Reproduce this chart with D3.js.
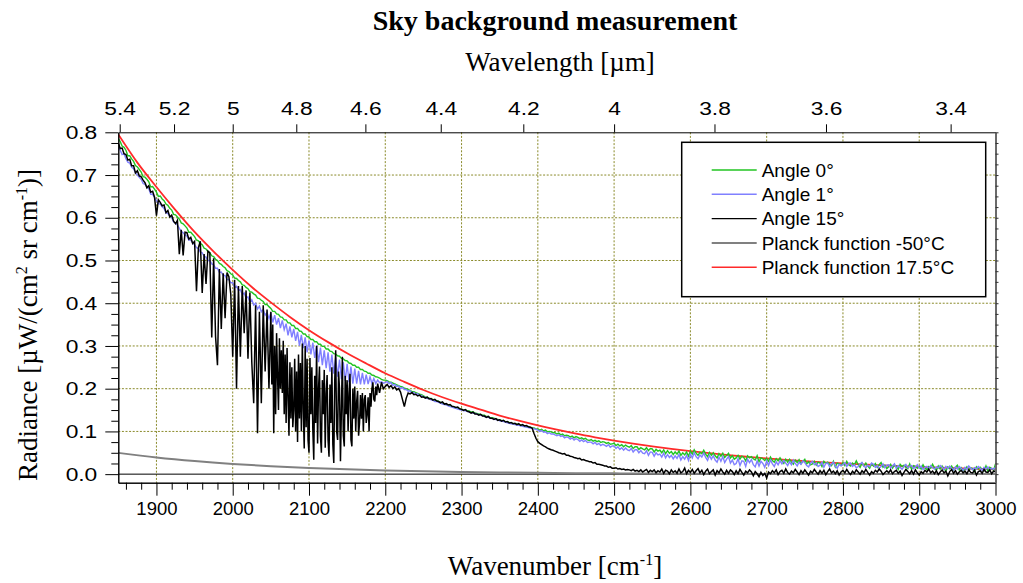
<!DOCTYPE html>
<html><head><meta charset="utf-8">
<script src="https://cdn.jsdelivr.net/npm/d3@7"></script>
<style>
html,body{margin:0;padding:0;background:#fff;}
svg{display:block;}
</style></head><body>
<svg id="chart" width="1023" height="583"></svg>
<script>
// ---------------- DATA ----------------
// Sampling grid of the measured spectra (cm^-1), 1850 ... 3000 every 2.5
const wavenumber = d3.range(0, 461).map(i => 1850 + 2.5 * i);

const angle0 = [
785,778,768,765, 758,745,745,738, 732,722,719,713, 707,696,695,690, 684,672,673,667,
660,650,651,644, 640,632,629,622, 618,608,607,602, 597,588,586,581, 576,566,566,561,
556,548,546,540, 537,529,527,521, 518,511,509,503, 500,493,491,486, 483,476,474,469,
466,459,458,453, 450,443,442,437, 434,427,426,422, 419,412,411,407, 404,397,397,392,
388,381,381,375, 374,368,367,361, 361,354,354,348, 348,341,341,335, 334,328,328,322,
321,315,315,310, 310,304,304,299, 299,293,293,288, 287,282,281,277, 276,271,270,266,
265,260,259,255, 255,250,250,245, 245,241,240,236, 236,232,231,228, 227,225,222,220,
220,219,216,215, 213,211,209,207, 205,204,201,200, 198,196,193,193, 191,189,187,186,
183,181,180,178, 176,175,172,172, 170,168,166,165, 163,161,160,158, 157,155,154,152,
152,150,151,148, 148,145,146,143, 142,141,140,138, 138,135,135,132, 132,131,129,128,
127,126,125,123, 123,121,120,118, 118,117,116,115, 114,113,111,111, 110,108,108,106,
106,103,105,101, 103,99,100,99, 97,97,94,96, 92,94,90,91, 90,87,89,85,
88,86,83,85, 82,84,80,79, 81,77,79,76, 78,74,76,75, 72,74,70,71,
72,67,70,66, 69,64,68,65, 63,67,60,64, 64,58,62,59, 57,62,55,60,
59,52,58,54, 56,50,57,48, 55,49,53,46, 52,47,54,44, 50,45,52,42,
54,47,57,49, 44,51,48,56, 47,41,51,44, 50,43,38,48, 42,49,39,44,
49,38,43,35, 38,44,35,42, 39,31,43,38, 41,36,33,43, 29,38,36,32,
37,30,40,32, 28,36,31,38, 31,25,35,28, 35,28,23,33, 27,34,24,30,
35,24,29,22, 24,30,21,28, 26,18,30,25, 28,23,20,30, 17,26,24,20,
27,20,30,22, 19,26,22,31, 22,16,26,19, 26,19,14,24, 19,25,16,22,
27,16,21,13, 17,23,14,21, 19,11,23,18, 21,16,13,24, 11,20,18,14,
19,12,22,14, 11,18,14,23, 15,9,19,12, 19,12,8,17, 13,19,10,16,
21,10,15,8, 11,17,9,15, 13,6,17,12, 16,11,8,19, 7,16,13,9,
24
];

const angle1 = [
765,758,748,750, 738,730,728,718, 715,705,700,695, 690,680,678,672, 668,655,655,648,
640,633,632,626, 622,612,610,603, 600,590,588,583, 575,568,565,560, 557,548,548,541,
537,530,528,520, 518,510,508,500, 500,492,490,482, 482,472,473,465, 465,455,456,448,
448,438,440,430, 432,420,424,412, 415,402,408,396, 400,386,393,380, 385,372,378,364,
378,355,372,350, 365,342,360,338, 352,325,346,320, 340,312,333,300, 326,295,320,285,
313,280,308,272, 302,262,296,255, 290,248,285,240, 280,235,273,228, 268,222,262,218,
258,215,252,212, 247,212,242,210, 237,210,233,211, 228,212,224,212, 220,214,216,213,
214,217,212,214, 208,210,205,206, 200,203,198,198, 194,195,190,191, 187,188,184,184,
180,180,177,177, 174,173,170,170, 168,166,164,163, 162,160,158,157, 155,154,152,151,
150,149,148,147, 145,144,143,142, 141,139,138,137, 135,134,133,131, 130,129,128,127,
125,124,123,122, 120,119,118,117, 116,115,114,113, 112,111,110,109, 108,107,106,105,
103,100,102,98, 99,95,97,94, 94,92,90,92, 88,90,85,87, 86,82,85,80,
83,81,77,80, 76,79,74,75, 75,71,74,69, 72,67,70,68, 65,69,63,66,
66,60,64,58, 62,56,61,57, 55,60,52,57, 57,50,55,49, 48,55,44,52,
51,42,50,45, 47,40,49,38, 46,39,44,36, 43,37,46,33, 41,35,44,32,
47,38,50,41, 36,45,40,49, 39,32,44,35, 43,33,28,40, 30,41,27,35,
41,26,33,22, 25,36,20,31, 30,18,35,27, 34,22,17,31, 19,30,25,16,
31,20,33,24, 18,29,22,31, 24,32,26,20, 29,22,33,25, 19,28,23,31,
27,20,17,26, 30,22,26,18, 21,28,16,25, 26,17,24,28, 19,14,23,20,
22,27,18,25, 26,18,22,15, 18,24,27,19, 15,21,18,26, 23,16,20,14,
18,24,15,21, 22,14,19,24, 13,20,16,11, 18,23,15,19, 20,13,17,22,
14,19,11,16, 18,13,20,15, 12,17,14,20, 16,11,18,13, 19,14,10,17,
12,18,14,9, 16,11,19,14, 10,15,12,18, 14,9,16,12, 17,10,14,11,
16
];

// Angle 15° outside the CO band (same 2.5 cm⁻¹ grid)
const angle15 = [
775,762,763,750, 748,735,737,722, 722,705,710,698, 696,688,682,670, 675,660,662,648,
605,642,636,628, 630,612,617,602, 606,592,586,594, 515,572,512,566, 565,550,554,540,
545,428,530,545, 424,515,445,522, 518,320,505,322, 255,480,340,470, 365,472,462,420,
275,455,200,440, 275,440,330,430, 270,425,262,166, 395,96,380,166, 395,240,385,200,
380,210,96,300, 150,318,190,312, 120,295,90,262, 150,270,75,280, 100,306,60,300,
50,272,104,34, 300,72,252,50, 244,62,232,41, 250,26,290,80, 200,30,275,65,
220,100,235,65, 205,100,195,120, 190,100,185,140, 190,158,215,170, 212,190,215,200,
205,210,203,207, 200,204,197,200, 192,175,158,178, 190,188,191,186, 187,183,185,180,
181,178,180,176, 177,173,175,171, 170,167,169,164, 165,162,163,159, 158,156,157,153,
152,149,151,147, 146,143,145,141, 141,138,140,136, 136,133,135,131, 131,128,130,126,
127,124,126,122, 123,120,121,118, 119,116,118,114, 116,113,114,111, 110,108,95,84,
76,72,69,66, 64,61,59,57, 56,54,52,50, 49,47,48,44, 44,42,41,39,
38,36,37,33, 34,32,31,29, 29,26,27,23, 23,22,21,19, 19,16,17,14,
14,15,12,13, 11,12,10,11, 10,8,11,7, 9,6,10,5, 8,11,4,9,
6,10,3,8, 5,12,2,9, 7,1,10,4, 8,2,12,3, 6,14,1,9,
4,11,2,8, 13,3,9,-1, 7,12,1,6, 10,-2,8,3, 12,5,0,9,
2,10,6,-1, 8,1,11,4, -2,7,3,10, 5,-4,6,1, -6,4,-3,2,
-9,5,1,8, 3,10,-1,6, 9,2,12,4, 0,7,3,11, 5,-1,8,2,
10,4,-2,7, 3,11,5,0, 8,2,9,-1, 6,12,3,7, 1,8,-2,5,
9,3,11,4, -1,7,2,10, 5,0,8,3, 11,4,-2,6, 2,9,5,12,
7,-1,4,8, 3,10,1,6, 9,2,7,-3, 4,11,6,1, 8,0,10,3,
-2,6,2,9, 5,12,3,7, 1,8,-1,5, 10,3,7,-4, 6,11,2,8,
0,5,9,3, 7,1,10,4, 3,9,-2,6, 8,2,11,5, 4,10,1,7,
6
];
// Angle 15° inside the dense CO band, read finer: 2050 ... 2190 every 1.25 cm⁻¹
const bandStart = 2050, bandEnd = 2190;
const angle15BandWn = d3.range(0, 113).map(i => bandStart + 1.25 * i);
const angle15Band = [
380,210,350,96,300,140,330,230,
150,318,200,290,190,312,140,280,
120,295,180,90,262,130,250,110,
150,270,100,240,75,280,130,260,
100,306,150,60,300,110,270,80,
50,272,140,250,104,34,230,120,
300,72,200,252,90,50,220,140,
244,62,190,232,80,41,210,120,
250,70,26,220,290,100,80,240,
200,30,150,275,90,65,230,140,
220,100,190,235,80,65,200,130,
205,100,170,195,90,120,185,130,
190,100,175,185,120,140,180,100,
190,158,200,215,175,170,205,185,
212
];

// Planck curves read at coarser points (µW/(cm² sr cm⁻¹))
const planckHotWn = [1850,1875,1900,1925,1950,1975,2000,2025,2050,2075,2100,2125,2150,2175,2200,2225,2250,2275,2300,2325,2350,2375,2400,2425,2450,2475,2500,2525,2550,2575,2600,2625,2650,2675,2700,2725,2750,2775,2800,2825,2850,2875,2900,2925,2950,2975,3000];
const planckHot = [0.795,0.729,0.672,0.618,0.567,0.521,0.478,0.438,0.402,0.368,0.337,0.309,0.283,0.259,0.236,0.216,0.197,0.180,0.165,0.151,0.137,0.125,0.114,0.104,0.0947,0.0863,0.0785,0.0715,0.0651,0.0592,0.0539,0.0490,0.0445,0.0405,0.0368,0.0334,0.0303,0.0275,0.0250,0.0227,0.0206,0.0187,0.0169,0.0154,0.0139,0.0126,0.0114];
const planckColdWn = [1850,1900,1950,2000,2050,2100,2150,2200,2250,2300,2350,2400,2450,2500,2550,2600,2650,2700,2750,2800,2850,2900,2950,3000];
const planckCold = [0.0498,0.0391,0.0306,0.0239,0.0187,0.0145,0.0113,0.0088,0.0068,0.0053,0.0041,0.0031,0.0024,0.0019,0.0014,0.0011,0.0008,0.0006,0.0005,0.0004,0.0003,0.0002,0.0002,0.0001];

// Axis ticks and labels
const xTicks = [1900,2000,2100,2200,2300,2400,2500,2600,2700,2800,2900,3000];
const xTickLabels = ["1900","2000","2100","2200","2300","2400","2500","2600","2700","2800","2900","3000"];
const yTicks = [0,0.1,0.2,0.3,0.4,0.5,0.6,0.7,0.8];
const yTickLabels = ["0.0","0.1","0.2","0.3","0.4","0.5","0.6","0.7","0.8"];
const topTicks = [5.4,5.2,5.0,4.8,4.6,4.4,4.2,4.0,3.8,3.6,3.4];
const topTickLabels = ["5.4","5.2","5","4.8","4.6","4.4","4.2","4","3.8","3.6","3.4"];
const legendLabels = ["Angle 0°","Angle 1°","Angle 15°","Planck function -50°C","Planck function 17.5°C"];
const legendColors = ["#22c422","#8080ff","#000000","#808080","#ff2a2a"];

// ---------------- DRAWING ----------------
const serif = "'Liberation Serif','Times New Roman',serif";
const sans = "'Liberation Sans',Arial,sans-serif";
const gridColor = "#8a8a2a";
const svg = d3.select("#chart");
const M = {left:118.3, right:995.5, top:132.3, bottom:482.7};
const x = d3.scaleLinear().domain([1850,3000]).range([M.left,M.right]);
const y = d3.scaleLinear().domain([-0.02,0.8]).range([M.bottom,M.top]);

svg.append("rect").attr("width",1023).attr("height",583).attr("fill","#fff");
svg.append("defs").append("clipPath").attr("id","clip").append("rect")
  .attr("x",M.left).attr("y",M.top).attr("width",M.right-M.left).attr("height",M.bottom-M.top);

// grid
const grid = svg.append("g").attr("stroke",gridColor).attr("stroke-width",1).attr("stroke-dasharray","2,1.6");
grid.selectAll("line.gv").data(xTicks.filter(v=>v<3000)).join("line").attr("class","gv")
  .attr("x1",d=>x(d)).attr("x2",d=>x(d)).attr("y1",M.top).attr("y2",M.bottom);
grid.selectAll("line.gh").data(yTicks.filter(v=>v>0 && v<0.8)).join("line").attr("class","gh")
  .attr("x1",M.left).attr("x2",M.right).attr("y1",d=>y(d)).attr("y2",d=>y(d));

// zero line
svg.append("line").attr("x1",M.left).attr("x2",M.right).attr("y1",y(0)).attr("y2",y(0))
  .attr("stroke","#000").attr("stroke-width",1);

const plot = svg.append("g").attr("clip-path","url(#clip)");
const lineGen = d3.line().x(d=>x(d[0])).y(d=>y(d[1]));
const smoothGen = d3.line().x(d=>x(d[0])).y(d=>y(d[1])).curve(d3.curveMonotoneX);
const pairs = (arr) => wavenumber.slice(0, arr.length).map((w,i)=>[w, arr[i]/1000]);

// Angle 15° series: coarse readings outside the band, fine readings inside it
const a15 = pairs(angle15).filter(d => d[0] < bandStart || d[0] > bandEnd)
  .concat(angle15BandWn.map((w,i)=>[w, angle15Band[i]/1000]))
  .sort((a,b)=>a[0]-b[0]);

plot.append("path").datum(planckHotWn.map((w,i)=>[w,planckHot[i]])).attr("d",smoothGen)
  .attr("fill","none").attr("stroke",legendColors[4]).attr("stroke-width",1.8);
plot.append("path").datum(planckColdWn.map((w,i)=>[w,planckCold[i]])).attr("d",smoothGen)
  .attr("fill","none").attr("stroke",legendColors[3]).attr("stroke-width",2);
plot.append("path").datum(pairs(angle0)).attr("d",lineGen)
  .attr("fill","none").attr("stroke",legendColors[0]).attr("stroke-width",1.4);
plot.append("path").datum(pairs(angle1)).attr("d",lineGen)
  .attr("fill","none").attr("stroke",legendColors[1]).attr("stroke-width",1.4);
plot.append("path").datum(a15).attr("d",lineGen)
  .attr("fill","none").attr("stroke",legendColors[2]).attr("stroke-width",1.5);

// axes
const minorX = d3.range(1860,3000,20).filter(v=>v%100!==0);
const minorY = d3.range(0,33).filter(i=>i%4!==0).map(i=>i*0.025);
const allY = d3.range(0,33).map(i=>i*0.025);

function styleAxis(g, size){
  g.attr("font-family",sans).attr("font-size",size);
  g.selectAll("text").attr("fill","#000");
  g.selectAll("line").attr("stroke","#000");
  g.select(".domain").attr("stroke","#000");
}
// bottom
const gB = svg.append("g").attr("transform",`translate(0,${M.bottom})`)
  .call(d3.axisBottom(x).tickValues(xTicks).tickSize(13).tickSizeOuter(0).tickPadding(6).tickFormat((d,i)=>xTickLabels[i]));
styleAxis(gB,18.5);
svg.append("g").attr("transform",`translate(0,${M.bottom})`)
  .call(d3.axisBottom(x).tickValues(minorX).tickSize(7).tickSizeOuter(0).tickFormat(""));
// left
const gL = svg.append("g").attr("transform",`translate(${M.left},0)`)
  .call(d3.axisLeft(y).tickValues(yTicks).tickSize(13).tickSizeOuter(0).tickPadding(4.5).tickFormat((d,i)=>yTickLabels[i]));
styleAxis(gL,19);
gL.selectAll(".tick text").attr("transform","scale(1.2,1)");
svg.append("g").attr("transform",`translate(${M.left},0)`)
  .call(d3.axisLeft(y).tickValues(minorY).tickSize(7).tickSizeOuter(0).tickFormat(""));
// top (wavelength)
const gT = svg.append("g").attr("transform",`translate(0,${M.top})`)
  .call(d3.axisTop(x).tickValues(topTicks.map(l=>1e4/l)).tickSize(8).tickSizeOuter(0).tickPadding(9).tickFormat((d,i)=>topTickLabels[i]));
styleAxis(gT,19);
gT.selectAll(".tick text").attr("transform","scale(1.2,1)");
// right
const gR = svg.append("g").attr("transform",`translate(${M.right},0)`)
  .call(d3.axisRight(y).tickValues(allY).tickSize(3).tickSizeOuter(0).tickFormat(""));
gR.select(".domain").attr("stroke","#6a6a6a").attr("stroke-width",2);
gR.selectAll(".tick line").attr("stroke","#333");

// legend
const lg = svg.append("g");
lg.append("rect").attr("x",681.7).attr("y",142.3).attr("width",304).attr("height",154.4)
  .attr("fill","#fff").attr("stroke","#000").attr("stroke-width",1.5);
const rows = [170,194.3,218.6,242.9,267.2];
legendLabels.forEach((t,i)=>{
  lg.append("line").attr("x1",711.7).attr("x2",756.7).attr("y1",rows[i]).attr("y2",rows[i])
    .attr("stroke",legendColors[i]).attr("stroke-width",i===3?2:1.4);
  lg.append("text").attr("x",761.7).attr("y",rows[i]+6.8).attr("font-family",sans).attr("font-size",19)
    .attr("fill","#000").text(t);
});

// titles
svg.append("text").attr("x",555).attr("y",30).attr("text-anchor","middle")
  .attr("font-family",serif).attr("font-size",28).attr("font-weight","bold").text("Sky background measurement");
svg.append("text").attr("x",560).attr("y",71).attr("text-anchor","middle")
  .attr("font-family",serif).attr("font-size",27).text("Wavelength [µm]");

const xt = svg.append("text").attr("x",555).attr("y",575).attr("text-anchor","middle")
  .attr("font-family",serif).attr("font-size",27);
xt.append("tspan").text("Wavenumber [cm");
xt.append("tspan").attr("dy",-10).attr("font-size",16).text("-1");
xt.append("tspan").attr("dy",10).text("]");

const yt = svg.append("text").attr("transform","translate(37,325) rotate(-90)").attr("text-anchor","middle")
  .attr("font-family",serif).attr("font-size",27);
yt.append("tspan").text("Radiance [µW/(cm");
yt.append("tspan").attr("dy",-10).attr("font-size",16).text("2");
yt.append("tspan").attr("dy",10).text(" sr cm");
yt.append("tspan").attr("dy",-10).attr("font-size",16).text("-1");
yt.append("tspan").attr("dy",10).text(")]");
</script>
</body></html>
